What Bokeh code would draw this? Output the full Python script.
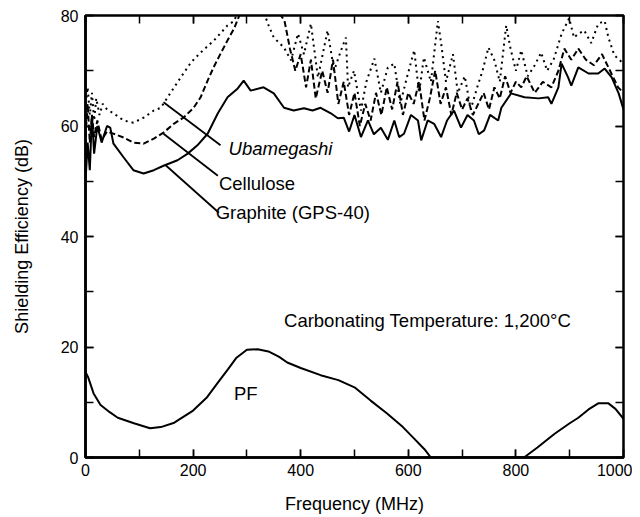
from bokeh.plotting import figure
from bokeh.models import LinearAxis, Range1d, SingleIntervalTicker, Label
from bokeh.embed import file_html
from bokeh.resources import INLINE

# ---------------- data ----------------
freq_uba = [0, 4, 8, 12, 16, 20, 26, 32, 40, 52, 71, 89, 108, 127, 140, 158, 177, 196, 214, 239,
            264, 276, 290, 300, 320, 339, 350, 369, 382, 395, 406, 419, 432, 450, 462, 475, 484, 488,
            499, 512, 522, 537, 549, 562, 574, 585, 598, 611, 620, 629, 642, 655, 661, 670, 683, 692,
            705, 716, 728, 738, 749, 760, 770, 782, 790, 800, 810, 822, 835, 847, 858, 870, 885, 899,
            908, 916, 927, 940, 953, 965, 972, 983, 992, 1000]
se_uba = [64, 67, 62, 66, 61, 65, 62, 64, 63, 62.3, 61, 60.6, 61.5, 62.8, 63.3, 66, 68.8, 71.5, 73.3, 75.5,
          78.2, 79, 82, 85, 84, 78.5, 76, 74.2, 71.9, 76.7, 73, 78.5, 68.8, 77.3, 70, 73.7, 76, 67,
          70, 62.8, 68, 72.2, 66, 70.6, 71.3, 64, 69, 73.7, 66, 72.4, 68, 79, 75, 68, 73, 66,
          69, 63, 67, 70, 74.2, 71.9, 68, 78.2, 74, 70, 73.7, 69, 71, 73.3, 70, 72, 76.7, 79.5,
          76, 76.7, 77.3, 75, 78.5, 79, 76, 72.8, 72, 71.3]

freq_cel = [0, 4, 8, 12, 16, 22, 30, 40, 55, 71, 89, 108, 127, 145, 164, 182, 201, 214, 227, 238,
            251, 264, 276, 290, 320, 350, 370, 380, 390, 400, 410, 419, 428, 440, 450, 460, 470, 480,
            490, 500, 510, 520, 530, 540, 550, 560, 570, 580, 590, 600, 610, 620, 630, 640, 650, 660,
            670, 680, 690, 700, 710, 720, 730, 740, 750, 760, 770, 780, 790, 800, 810, 820, 835, 850,
            866, 879, 890, 903, 916, 930, 945, 960, 975, 990, 1000]
se_cel = [58, 64, 57, 62, 58, 61, 57.5, 59, 58.5, 57.9, 57, 56.8, 57.7, 58.8, 60.4, 61.5, 63.3, 65.2, 68.2, 70.6,
          73.1, 75.5, 77.6, 81, 84, 82, 79, 74, 70, 73, 67, 72, 65, 70, 66, 72, 64, 68,
          62, 66, 60, 64, 61, 66, 62, 67, 63, 68, 62, 66, 64, 68, 61, 65, 70, 64,
          67, 62, 66, 63, 65, 62, 64, 66, 63, 67, 65, 69, 66, 68, 67, 69, 66, 68,
          67, 70, 74, 72, 74, 72, 71, 73, 70, 67, 66]

freq_gra = [0, 4, 8, 12, 16, 22, 30, 40, 46, 52, 71, 89, 108, 127, 145, 171, 190, 208, 227, 246,
            264, 283, 294, 307, 331, 350, 369, 387, 406, 422, 437, 456, 469, 480, 490, 500, 512, 525,
            536, 549, 562, 574, 583, 592, 605, 618, 624, 636, 648, 661, 672, 685, 698, 710, 722, 731,
            741, 752, 767, 773, 791, 816, 842, 860, 866, 879, 885, 897, 903, 916, 935, 953, 965, 978,
            991, 1000]
se_gra = [50, 57, 52, 62, 55, 60, 57, 60, 59.7, 56.8, 54.3, 52, 51.4, 52, 52.8, 53.8, 55, 56.5, 58.6, 62.3,
          65.2, 66.8, 68.2, 66.4, 67, 65.9, 63.3, 62.8, 63.2, 62.8, 63.3, 62.3, 61.4, 61.5, 59, 62, 58, 61,
          58.5, 59.7, 57.5, 61, 58, 58.6, 62, 61, 57.4, 61, 60.4, 58, 61, 62.8, 59.7, 62, 61, 58.5,
          59.2, 62, 61, 63.3, 65.9, 65.2, 65, 65.2, 64, 67, 71.3, 68.8, 67.3, 70.6, 69.5, 69.5, 70.4, 68.8,
          65.9, 63]

freq_pf = [0, 5, 15, 28, 45, 60, 90, 120, 140, 165, 200, 225, 245, 265, 280, 300, 320, 340, 360, 375,
           400, 437, 470, 500, 530, 560, 590, 610, 630, 642, 700, 750, 815, 840, 872, 900, 916, 935,
           953, 972, 985, 1000]
se_pf = [15.5, 14.5, 11.6, 9.5, 8.2, 7.2, 6.2, 5.3, 5.5, 6.3, 8.5, 10.8, 13.4, 16, 18, 19.5, 19.6, 19.2, 18.2, 17.2,
         16.2, 14.9, 14, 12.7, 10.3, 8, 5.5, 3.5, 1.5, 0, 0, 0, 0, 1.8, 4.3, 6.2, 7.2, 8.7,
         9.8, 9.8, 8.8, 7]

x_ticks_interval = 200
y_ticks_interval = 20

# leader lines from curve to label (data units)
lead_x0 = [145, 145, 149]
lead_y0 = [64.3, 58.6, 52.9]
lead_x1 = [251, 246, 248]
lead_y1 = [56.5, 51.0, 44.3]

FONT = "Liberation Sans"

p = figure(width=632, height=517, x_range=Range1d(0, 1000), y_range=Range1d(0, 80),
           output_backend="svg", toolbar_location=None,
           min_border_left=85, min_border_right=9, min_border_top=15, min_border_bottom=60)
p.grid.visible = False
p.background_fill_color = "white"
p.outline_line_color = "black"
p.outline_line_width = 2.5

xt = SingleIntervalTicker(interval=x_ticks_interval, num_minor_ticks=2)
yt = SingleIntervalTicker(interval=y_ticks_interval, num_minor_ticks=2)

for ax, t in ((p.xaxis[0], xt), (p.yaxis[0], yt)):
    ax.ticker = t
    ax.axis_line_width = 2.5
    ax.major_tick_in = 8
    ax.major_tick_out = 0
    ax.minor_tick_in = 8
    ax.minor_tick_out = 0
    ax.major_tick_line_width = 1.5
    ax.minor_tick_line_width = 1.5
    ax.major_label_text_font = FONT
    ax.major_label_text_font_size = "16px"
    ax.major_label_text_color = "black"
    ax.axis_label_text_font = FONT
    ax.axis_label_text_font_size = "18px"
    ax.axis_label_text_font_style = "normal"
    ax.axis_label_text_color = "black"

p.xaxis.axis_label = "Frequency (MHz)"
p.yaxis.axis_label = "Shielding Efficiency (dB)"
p.xaxis.major_label_standoff = 6
p.xaxis.axis_label_standoff = 15
p.yaxis.major_label_standoff = 7
p.yaxis.axis_label_standoff = 26

top_ticks = {v: "" for v in range(0, 1001, 200)}
right_ticks = {v: "" for v in range(0, 81, 20)}
for loc, t, ov in (("above", SingleIntervalTicker(interval=x_ticks_interval, num_minor_ticks=2), top_ticks),
                   ("right", SingleIntervalTicker(interval=y_ticks_interval, num_minor_ticks=2), right_ticks)):
    a = LinearAxis(ticker=t, axis_line_color=None, major_tick_in=8, major_tick_out=0,
                   minor_tick_in=8, minor_tick_out=0, major_tick_line_width=1.5,
                   minor_tick_line_width=1.5, major_label_standoff=0,
                   major_label_overrides=ov, major_label_text_font_size="1px")
    p.add_layout(a, loc)

p.line(freq_uba, se_uba, line_color="black", line_width=2, line_dash="2 4")
p.line(freq_cel, se_cel, line_color="black", line_width=2, line_dash="6 3")
p.line(freq_gra, se_gra, line_color="black", line_width=2)
p.line(freq_pf, se_pf, line_color="black", line_width=2)

p.segment(x0=lead_x0, y0=lead_y0, x1=lead_x1, y1=lead_y1, line_color="black", line_width=1.8)

def lab(x, y, text, style="normal", align="left", size="18.5px"):
    p.add_layout(Label(x=x, y=y, text=text, text_font=FONT, text_font_size=size,
                       text_font_style=style, text_align=align, text_baseline="middle",
                       text_color="black"))

lab(266, 55.9, "Ubamegashi", style="italic")
lab(248, 49.6, "Cellulose")
lab(242, 44.3, "Graphite (GPS-40)")
lab(369, 24.8, "Carbonating Temperature: 1,200°C")
lab(298, 11.6, "PF", align="center")

open("out.html", "w").write(file_html(p, INLINE))
